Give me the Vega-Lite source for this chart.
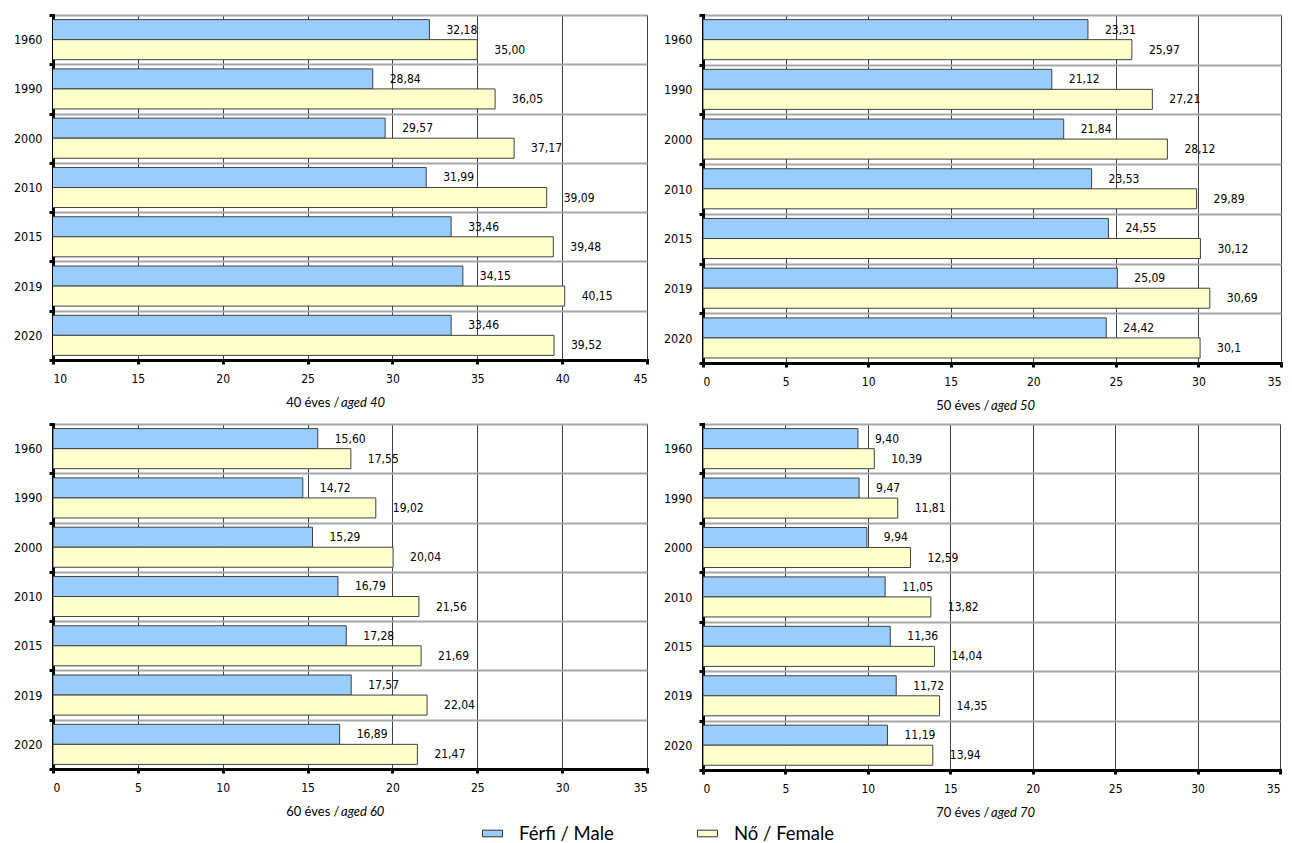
{
  "$schema": "https://vega.github.io/schema/vega-lite/v6.json",
  "background": "white",
  "padding": {"left": 12, "top": 8, "right": 5, "bottom": 0},
  "datasets": {
    "d": [
      {"panel": 40, "year": 1960, "sex": "Férfi / Male", "value": 32.18, "label": "32,18"},
      {"panel": 40, "year": 1990, "sex": "Férfi / Male", "value": 28.84, "label": "28,84"},
      {"panel": 40, "year": 2000, "sex": "Férfi / Male", "value": 29.57, "label": "29,57"},
      {"panel": 40, "year": 2010, "sex": "Férfi / Male", "value": 31.99, "label": "31,99"},
      {"panel": 40, "year": 2015, "sex": "Férfi / Male", "value": 33.46, "label": "33,46"},
      {"panel": 40, "year": 2019, "sex": "Férfi / Male", "value": 34.15, "label": "34,15"},
      {"panel": 40, "year": 2020, "sex": "Férfi / Male", "value": 33.46, "label": "33,46"},
      {"panel": 40, "year": 1960, "sex": "Nő / Female", "value": 35.00, "label": "35,00"},
      {"panel": 40, "year": 1990, "sex": "Nő / Female", "value": 36.05, "label": "36,05"},
      {"panel": 40, "year": 2000, "sex": "Nő / Female", "value": 37.17, "label": "37,17"},
      {"panel": 40, "year": 2010, "sex": "Nő / Female", "value": 39.09, "label": "39,09"},
      {"panel": 40, "year": 2015, "sex": "Nő / Female", "value": 39.48, "label": "39,48"},
      {"panel": 40, "year": 2019, "sex": "Nő / Female", "value": 40.15, "label": "40,15"},
      {"panel": 40, "year": 2020, "sex": "Nő / Female", "value": 39.52, "label": "39,52"},
      {"panel": 50, "year": 1960, "sex": "Férfi / Male", "value": 23.31, "label": "23,31"},
      {"panel": 50, "year": 1990, "sex": "Férfi / Male", "value": 21.12, "label": "21,12"},
      {"panel": 50, "year": 2000, "sex": "Férfi / Male", "value": 21.84, "label": "21,84"},
      {"panel": 50, "year": 2010, "sex": "Férfi / Male", "value": 23.53, "label": "23,53"},
      {"panel": 50, "year": 2015, "sex": "Férfi / Male", "value": 24.55, "label": "24,55"},
      {"panel": 50, "year": 2019, "sex": "Férfi / Male", "value": 25.09, "label": "25,09"},
      {"panel": 50, "year": 2020, "sex": "Férfi / Male", "value": 24.42, "label": "24,42"},
      {"panel": 50, "year": 1960, "sex": "Nő / Female", "value": 25.97, "label": "25,97"},
      {"panel": 50, "year": 1990, "sex": "Nő / Female", "value": 27.21, "label": "27,21"},
      {"panel": 50, "year": 2000, "sex": "Nő / Female", "value": 28.12, "label": "28,12"},
      {"panel": 50, "year": 2010, "sex": "Nő / Female", "value": 29.89, "label": "29,89"},
      {"panel": 50, "year": 2015, "sex": "Nő / Female", "value": 30.12, "label": "30,12"},
      {"panel": 50, "year": 2019, "sex": "Nő / Female", "value": 30.69, "label": "30,69"},
      {"panel": 50, "year": 2020, "sex": "Nő / Female", "value": 30.10, "label": "30,1"},
      {"panel": 60, "year": 1960, "sex": "Férfi / Male", "value": 15.60, "label": "15,60"},
      {"panel": 60, "year": 1990, "sex": "Férfi / Male", "value": 14.72, "label": "14,72"},
      {"panel": 60, "year": 2000, "sex": "Férfi / Male", "value": 15.29, "label": "15,29"},
      {"panel": 60, "year": 2010, "sex": "Férfi / Male", "value": 16.79, "label": "16,79"},
      {"panel": 60, "year": 2015, "sex": "Férfi / Male", "value": 17.28, "label": "17,28"},
      {"panel": 60, "year": 2019, "sex": "Férfi / Male", "value": 17.57, "label": "17,57"},
      {"panel": 60, "year": 2020, "sex": "Férfi / Male", "value": 16.89, "label": "16,89"},
      {"panel": 60, "year": 1960, "sex": "Nő / Female", "value": 17.55, "label": "17,55"},
      {"panel": 60, "year": 1990, "sex": "Nő / Female", "value": 19.02, "label": "19,02"},
      {"panel": 60, "year": 2000, "sex": "Nő / Female", "value": 20.04, "label": "20,04"},
      {"panel": 60, "year": 2010, "sex": "Nő / Female", "value": 21.56, "label": "21,56"},
      {"panel": 60, "year": 2015, "sex": "Nő / Female", "value": 21.69, "label": "21,69"},
      {"panel": 60, "year": 2019, "sex": "Nő / Female", "value": 22.04, "label": "22,04"},
      {"panel": 60, "year": 2020, "sex": "Nő / Female", "value": 21.47, "label": "21,47"},
      {"panel": 70, "year": 1960, "sex": "Férfi / Male", "value": 9.40, "label": "9,40"},
      {"panel": 70, "year": 1990, "sex": "Férfi / Male", "value": 9.47, "label": "9,47"},
      {"panel": 70, "year": 2000, "sex": "Férfi / Male", "value": 9.94, "label": "9,94"},
      {"panel": 70, "year": 2010, "sex": "Férfi / Male", "value": 11.05, "label": "11,05"},
      {"panel": 70, "year": 2015, "sex": "Férfi / Male", "value": 11.36, "label": "11,36"},
      {"panel": 70, "year": 2019, "sex": "Férfi / Male", "value": 11.72, "label": "11,72"},
      {"panel": 70, "year": 2020, "sex": "Férfi / Male", "value": 11.19, "label": "11,19"},
      {"panel": 70, "year": 1960, "sex": "Nő / Female", "value": 10.39, "label": "10,39"},
      {"panel": 70, "year": 1990, "sex": "Nő / Female", "value": 11.81, "label": "11,81"},
      {"panel": 70, "year": 2000, "sex": "Nő / Female", "value": 12.59, "label": "12,59"},
      {"panel": 70, "year": 2010, "sex": "Nő / Female", "value": 13.82, "label": "13,82"},
      {"panel": 70, "year": 2015, "sex": "Nő / Female", "value": 14.04, "label": "14,04"},
      {"panel": 70, "year": 2019, "sex": "Nő / Female", "value": 14.35, "label": "14,35"},
      {"panel": 70, "year": 2020, "sex": "Nő / Female", "value": 13.94, "label": "13,94"}
    ]
  },
  "data": {"name": "d"},
  "vconcat": [
    {
      "hconcat": [
        {
          "width": 594, "height": 345,
          "transform": [{"filter": "datum.panel == 40"}],
          "title": {"text": "aged 40", "orient": "bottom", "anchor": "start", "frame": "group", "dx": 288, "dy": -16, "fontStyle": "italic"},
          "encoding": {
            "y": {"field": "year", "type": "ordinal", "sort": "ascending", "scale": {"paddingInner": 0, "paddingOuter": 0}, "axis": {"title": null}},
            "yOffset": {"field": "sex", "scale": {"domain": ["Férfi / Male", "Nő / Female"], "paddingInner": 0, "paddingOuter": 0.23}}
          },
          "layer": [
            {
              "mark": {"type": "bar", "clip": true, "stroke": "#404040", "strokeWidth": 1},
              "encoding": {
                "x": {"field": "value", "type": "quantitative", "scale": {"domain": [10, 45], "zero": false, "nice": false}, "axis": {"values": [10, 15, 20, 25, 30, 35, 40, 45], "title": "40 éves /", "titleAlign": "right", "titleX": 286}},
                "color": {"field": "sex", "type": "nominal", "scale": {"domain": ["Férfi / Male", "Nő / Female"], "range": ["#99CCFF", "#FFFFCC"]}, "legend": {"orient": "none", "direction": "horizontal", "legendX": 429, "legendY": 808, "title": null}}
              }
            },
            {
              "mark": {"type": "text", "align": "left", "baseline": "middle", "dx": 17},
              "encoding": {
                "x": {"field": "value", "type": "quantitative"},
                "text": {"field": "label"}
              }
            }
          ]
        },
        {
          "width": 578, "height": 348,
          "transform": [{"filter": "datum.panel == 50"}],
          "title": {"text": "aged 50", "orient": "bottom", "anchor": "start", "frame": "group", "dx": 288, "dy": -16, "fontStyle": "italic"},
          "encoding": {
            "y": {"field": "year", "type": "ordinal", "sort": "ascending", "scale": {"paddingInner": 0, "paddingOuter": 0}, "axis": {"title": null}},
            "yOffset": {"field": "sex", "scale": {"domain": ["Férfi / Male", "Nő / Female"], "paddingInner": 0, "paddingOuter": 0.23}}
          },
          "layer": [
            {
              "mark": {"type": "bar", "clip": true, "stroke": "#404040", "strokeWidth": 1},
              "encoding": {
                "x": {"field": "value", "type": "quantitative", "scale": {"domain": [0, 35], "nice": false}, "axis": {"values": [0, 5, 10, 15, 20, 25, 30, 35], "title": "50 éves /", "titleAlign": "right", "titleX": 286}},
                "color": {"field": "sex", "type": "nominal", "scale": {"domain": ["Férfi / Male", "Nő / Female"], "range": ["#99CCFF", "#FFFFCC"]}, "legend": {"orient": "none", "direction": "horizontal", "legendX": 429, "legendY": 808, "title": null}}
              }
            },
            {
              "mark": {"type": "text", "align": "left", "baseline": "middle", "dx": 17},
              "encoding": {
                "x": {"field": "value", "type": "quantitative"},
                "text": {"field": "label"}
              }
            }
          ]
        }
      ],
      "spacing": 13
    },
    {
      "hconcat": [
        {
          "width": 594, "height": 345,
          "transform": [{"filter": "datum.panel == 60"}],
          "title": {"text": "aged 60", "orient": "bottom", "anchor": "start", "frame": "group", "dx": 288, "dy": -16, "fontStyle": "italic"},
          "encoding": {
            "y": {"field": "year", "type": "ordinal", "sort": "ascending", "scale": {"paddingInner": 0, "paddingOuter": 0}, "axis": {"title": null}},
            "yOffset": {"field": "sex", "scale": {"domain": ["Férfi / Male", "Nő / Female"], "paddingInner": 0, "paddingOuter": 0.23}}
          },
          "layer": [
            {
              "mark": {"type": "bar", "clip": true, "stroke": "#404040", "strokeWidth": 1},
              "encoding": {
                "x": {"field": "value", "type": "quantitative", "scale": {"domain": [0, 35], "nice": false}, "axis": {"values": [0, 5, 10, 15, 20, 25, 30, 35], "title": "60 éves /", "titleAlign": "right", "titleX": 286}},
                "color": {"field": "sex", "type": "nominal", "scale": {"domain": ["Férfi / Male", "Nő / Female"], "range": ["#99CCFF", "#FFFFCC"]}, "legend": {"orient": "none", "direction": "horizontal", "legendX": 429, "legendY": 808, "title": null}}
              }
            },
            {
              "mark": {"type": "text", "align": "left", "baseline": "middle", "dx": 17},
              "encoding": {
                "x": {"field": "value", "type": "quantitative"},
                "text": {"field": "label"}
              }
            }
          ]
        },
        {
          "width": 577, "height": 346,
          "transform": [{"filter": "datum.panel == 70"}],
          "title": {"text": "aged 70", "orient": "bottom", "anchor": "start", "frame": "group", "dx": 288, "dy": -16, "fontStyle": "italic"},
          "encoding": {
            "y": {"field": "year", "type": "ordinal", "sort": "ascending", "scale": {"paddingInner": 0, "paddingOuter": 0}, "axis": {"title": null}},
            "yOffset": {"field": "sex", "scale": {"domain": ["Férfi / Male", "Nő / Female"], "paddingInner": 0, "paddingOuter": 0.23}}
          },
          "layer": [
            {
              "mark": {"type": "bar", "clip": true, "stroke": "#404040", "strokeWidth": 1},
              "encoding": {
                "x": {"field": "value", "type": "quantitative", "scale": {"domain": [0, 35], "nice": false}, "axis": {"values": [0, 5, 10, 15, 20, 25, 30, 35], "title": "70 éves /", "titleAlign": "right", "titleX": 286}},
                "color": {"field": "sex", "type": "nominal", "scale": {"domain": ["Férfi / Male", "Nő / Female"], "range": ["#99CCFF", "#FFFFCC"]}, "legend": {"orient": "none", "direction": "horizontal", "legendX": 429, "legendY": 808, "title": null}}
              }
            },
            {
              "mark": {"type": "text", "align": "left", "baseline": "middle", "dx": 17},
              "encoding": {
                "x": {"field": "value", "type": "quantitative"},
                "text": {"field": "label"}
              }
            }
          ]
        }
      ],
      "spacing": 13
    }
  ],
  "spacing": 3,
  "resolve": {"scale": {"x": "independent", "y": "independent", "yOffset": "independent"}},
  "config": {
    "view": {"stroke": "#404040", "strokeWidth": 1},
    "font": "Lato",
    "text": {"font": "DejaVu Sans Condensed", "fontSize": 12, "color": "#000000"},
    "title": {"font": "Lato", "fontSize": 13, "fontWeight": "normal", "color": "#000000", "offset": 0},
    "axis": {
      "domainColor": "#000000", "domainWidth": 3, "domainCap": "square",
      "tickColor": "#000000", "tickWidth": 3, "tickSize": 4,
      "labelFont": "DejaVu Sans Condensed", "labelFontSize": 12, "labelColor": "#000000",
      "titleFont": "Lato", "titleFontSize": 13, "titleFontWeight": "normal", "titleColor": "#000000",
      "grid": true
    },
    "axisY": {"tickBand": "extent", "gridColor": "#A6A6A6", "gridWidth": 2, "labelPadding": 7, "labelFontSize": 12.5},
    "axisX": {"gridColor": "#404040", "gridWidth": 1, "labelPadding": 9, "titlePadding": 12},
    "legend": {
      "labelFont": "Lato", "labelFontSize": 18.5, "labelColor": "#000000",
      "symbolType": "M-1,-0.33H1V0.33H-1Z", "symbolSize": 400,
      "symbolStrokeColor": "#333333", "symbolStrokeWidth": 1,
      "columnPadding": 81, "labelOffset": 16
    }
  }
}
